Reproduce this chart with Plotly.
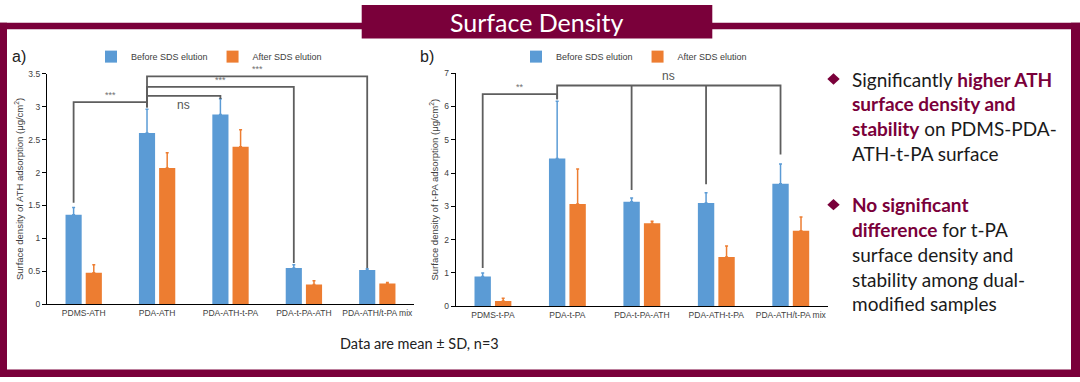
import plotly.graph_objects as go

# ---------------- data ----------------
cats_a = ["PDMS-ATH", "PDA-ATH", "PDA-ATH-t-PA", "PDA-t-PA-ATH", "PDA-ATH/t-PA mix"]
before_a = [1.36, 2.60, 2.88, 0.55, 0.52]
before_a_sd = [0.11, 0.36, 0.24, 0.05, 0.02]
after_a = [0.48, 2.07, 2.39, 0.30, 0.315]
after_a_sd = [0.12, 0.23, 0.26, 0.055, 0.015]

cats_b = ["PDMS-t-PA", "PDA-t-PA", "PDA-t-PA-ATH", "PDA-ATH-t-PA", "PDA-ATH/t-PA mix"]
before_b = [0.89, 4.44, 3.14, 3.10, 3.68]
before_b_sd = [0.11, 1.72, 0.11, 0.31, 0.59]
after_b = [0.155, 3.07, 2.49, 1.48, 2.27]
after_b_sd = [0.085, 1.05, 0.06, 0.33, 0.41]

series_names = ["Before SDS elution", "After SDS elution"]
y_ticks_a = [0, 0.5, 1, 1.5, 2, 2.5, 3, 3.5]
y_ticks_b = [0, 1, 2, 3, 4, 5, 6, 7]

# significance brackets: (left idx, right idx, level, left end, right end, label, label side)
brackets_a = [
    (0, 1, 3.07, 1.54, 2.99, "***", "above"),
    (1, 2, 3.165, 2.99, 3.115, "ns", "below"),
    (1, 3, 3.30, 2.99, 0.625, "***", "above"),
    (1, 4, 3.46, 2.99, 0.55, "***", "above"),
]
brackets_b = [
    (0, 1, 6.37, 1.15, 6.22, "**", "above"),
    (1, 4, 6.63, 6.22, 4.56, "ns", "above"),
]
extra_drops_b = [(2, 6.63, 3.49), (3, 6.63, 3.66)]

bullet1 = [
    [("Significantly ", False), ("higher ATH", True)],
    [("surface density and", True)],
    [("stability", True), (" on PDMS-PDA-", False)],
    [("ATH-t-PA surface", False)],
]
bullet2 = [
    [("No significant", True)],
    [("difference", True), (" for t-PA", False)],
    [("surface density and", False)],
    [("stability among dual-", False)],
    [("modified samples", False)],
]

# ---------------- style ----------------
W, H = 1080, 382
BLUE = "#5B9BD5"
ORANGE = "#ED7D31"
MAROON = "#7A003A"
GRAY = "#5E5E5E"
CHART_FONT = "Liberation Sans, Arial, sans-serif"
TEXT_FONT = "Lato, Carlito, sans-serif"
BAR_OFF = 0.1375  # half slot offset for grouped bars


def fx(px):
    return px / W


def fy(py):
    return 1 - py / H


fig = go.Figure()

panels = [
    dict(cats=cats_a, before=before_a, bsd=before_a_sd, after=after_a, asd=after_a_sd,
         xa="x", ya="y", legend="legend", brackets=brackets_a, drops=[]),
    dict(cats=cats_b, before=before_b, bsd=before_b_sd, after=after_b, asd=after_b_sd,
         xa="x2", ya="y2", legend="legend2", brackets=brackets_b, drops=extra_drops_b),
]

annotations = []
for p in panels:
    xs = list(range(len(p["cats"])))
    for name, vals, sd, col in [(series_names[0], p["before"], p["bsd"], BLUE),
                                (series_names[1], p["after"], p["asd"], ORANGE)]:
        fig.add_trace(go.Bar(
            x=xs, y=vals, name=name, marker=dict(color=col, line=dict(width=0)),
            error_y=dict(type="data", array=sd, arrayminus=[0] * len(sd), symmetric=False,
                         color=col, thickness=1.5, width=1.5),
            xaxis=p["xa"], yaxis=p["ya"], legend=p["legend"], hoverinfo="skip",
        ))
    # brackets
    bx, by = [], []
    for (il, ir, lev, le, re, lab, side) in p["brackets"]:
        xl, xr = il - BAR_OFF, ir - BAR_OFF
        bx += [xl, xl, xr, xr, None]
        by += [le, lev, lev, re, None]
        big = lab == "ns"
        annotations.append(dict(
            x=(xl + xr) / 2, y=lev, xref=p["xa"], yref=p["ya"], text=lab, showarrow=False,
            yanchor="bottom" if side == "above" else "top",
            font=dict(family=CHART_FONT, size=12 if big else 9, color="#555555" if big else "#707070"),
        ))
    for (i, lev, end) in p["drops"]:
        bx += [i - BAR_OFF, i - BAR_OFF, None]
        by += [lev, end, None]
    fig.add_trace(go.Scatter(x=bx, y=by, mode="lines", line=dict(color=GRAY, width=1.8),
                             showlegend=False, hoverinfo="skip", xaxis=p["xa"], yaxis=p["ya"]))

axis_common = dict(showgrid=False, zeroline=False, showline=True, linecolor="#000000",
                   linewidth=1.2, tickfont=dict(family=CHART_FONT, size=8.5, color="#404040"),
                   fixedrange=True)

fig.update_layout(
    width=W, height=H, autosize=False,
    margin=dict(l=0, r=0, t=0, b=0),
    paper_bgcolor="white", plot_bgcolor="white",
    barmode="group", bargap=0.45, bargroupgap=0.2,
    xaxis=dict(domain=[fx(47), fx(414)], range=[-0.5, 4.5], tickvals=list(range(5)),
               ticktext=cats_a, ticks="", anchor="y", **axis_common),
    yaxis=dict(domain=[fy(307.3), fy(70.6)], range=[0, 3.5], tickvals=y_ticks_a,
               ticktext=[f"{v:g}" for v in y_ticks_a], ticks="outside", ticklen=4,
               tickcolor="#000000", anchor="x",
               title=dict(text="Surface density of ATH adsorption (μg/cm<sup>2</sup>)",
                          font=dict(family=CHART_FONT, size=9.5, color="#404040"), standoff=3),
               **axis_common),
    xaxis2=dict(domain=[fx(455.7), fx(828)], range=[-0.5, 4.5], tickvals=list(range(5)),
                ticktext=cats_b, ticks="", anchor="y2", **axis_common),
    yaxis2=dict(domain=[fy(309.3), fy(70)], range=[0, 7], tickvals=y_ticks_b,
                ticktext=[f"{v:g}" for v in y_ticks_b], ticks="outside", ticklen=4,
                tickcolor="#000000", anchor="x2",
                title=dict(text="Surface density of t-PA adsorption (μg/cm<sup>2</sup>)",
                           font=dict(family=CHART_FONT, size=9.5, color="#404040"), standoff=3),
                **axis_common),
    legend=dict(orientation="h", x=fx(209), xanchor="center", y=fy(53), yanchor="middle",
                font=dict(family=CHART_FONT, size=9, color="#404040"), bgcolor="rgba(0,0,0,0)"),
    legend2=dict(orientation="h", x=fx(634), xanchor="center", y=fy(53), yanchor="middle",
                 font=dict(family=CHART_FONT, size=9, color="#404040"), bgcolor="rgba(0,0,0,0)"),
)

# ---------------- frame & decorations ----------------
shapes = [
    dict(type="rect", xref="paper", yref="paper", x0=0, x1=1, y0=fy(25), y1=fy(18.3),
         fillcolor=MAROON, line=dict(width=0)),
    dict(type="rect", xref="paper", yref="paper", x0=0, x1=fx(7), y0=0, y1=fy(18.3),
         fillcolor=MAROON, line=dict(width=0)),
    dict(type="rect", xref="paper", yref="paper", x0=fx(1071), x1=1, y0=0, y1=fy(18.3),
         fillcolor=MAROON, line=dict(width=0)),
    dict(type="rect", xref="paper", yref="paper", x0=0, x1=1, y0=0, y1=fy(374.3),
         fillcolor=MAROON, line=dict(width=0)),
    dict(type="rect", xref="paper", yref="paper", x0=fx(361.7), x1=fx(712.3), y0=fy(34.3), y1=1,
         fillcolor=MAROON, line=dict(width=0)),
]


def diamond(cx, cy, hw=6.2, hh=5.8):
    pts = [(cx, cy - hh), (cx + hw, cy), (cx, cy + hh), (cx - hw, cy)]
    path = "M " + " L ".join(f"{fx(a):.5f},{fy(b):.5f}" for a, b in pts) + " Z"
    return dict(type="path", xref="paper", yref="paper", path=path,
                fillcolor=MAROON, line=dict(width=0))


shapes.append(diamond(833.5, 76))
shapes.append(diamond(833.5, 205))

annotations.append(dict(x=fx(537), y=fy(17.5), xref="paper", yref="paper", text="Surface Density",
                        showarrow=False, font=dict(family=TEXT_FONT, size=25, color="white"),
                        xanchor="center", yanchor="middle"))
annotations.append(dict(x=fx(10), y=fy(53), xref="paper", yref="paper", text="a)", showarrow=False,
                        font=dict(family=CHART_FONT, size=16, color="#222222"),
                        xanchor="left", yanchor="middle"))
annotations.append(dict(x=fx(418), y=fy(53), xref="paper", yref="paper", text="b)", showarrow=False,
                        font=dict(family=CHART_FONT, size=16, color="#222222"),
                        xanchor="left", yanchor="middle"))
annotations.append(dict(x=fx(419), y=fy(348), xref="paper", yref="paper",
                        text="Data are mean ± SD, n=3", showarrow=False,
                        font=dict(family=TEXT_FONT, size=14.5, color="#222222"),
                        xanchor="center", yanchor="middle"))


def line_html(parts):
    out = ""
    for txt, bold in parts:
        if bold:
            out += f"<b><span style='color:{MAROON}'>{txt}</span></b>"
        else:
            out += txt
    return out


for lines, y0 in [(bullet1, 76), (bullet2, 205)]:
    for k, parts in enumerate(lines):
        annotations.append(dict(x=fx(850), y=fy(y0 + k * 25.5), xref="paper", yref="paper",
                                text=line_html(parts), showarrow=False, xanchor="left",
                                yanchor="middle",
                                font=dict(family=TEXT_FONT, size=19, color="#1a1a1a")))

fig.update_layout(shapes=shapes, annotations=annotations)
fig.write_html("out.html", config={"displayModeBar": False},
               post_script="document.body.style.margin='0';document.body.style.overflow='hidden';")
